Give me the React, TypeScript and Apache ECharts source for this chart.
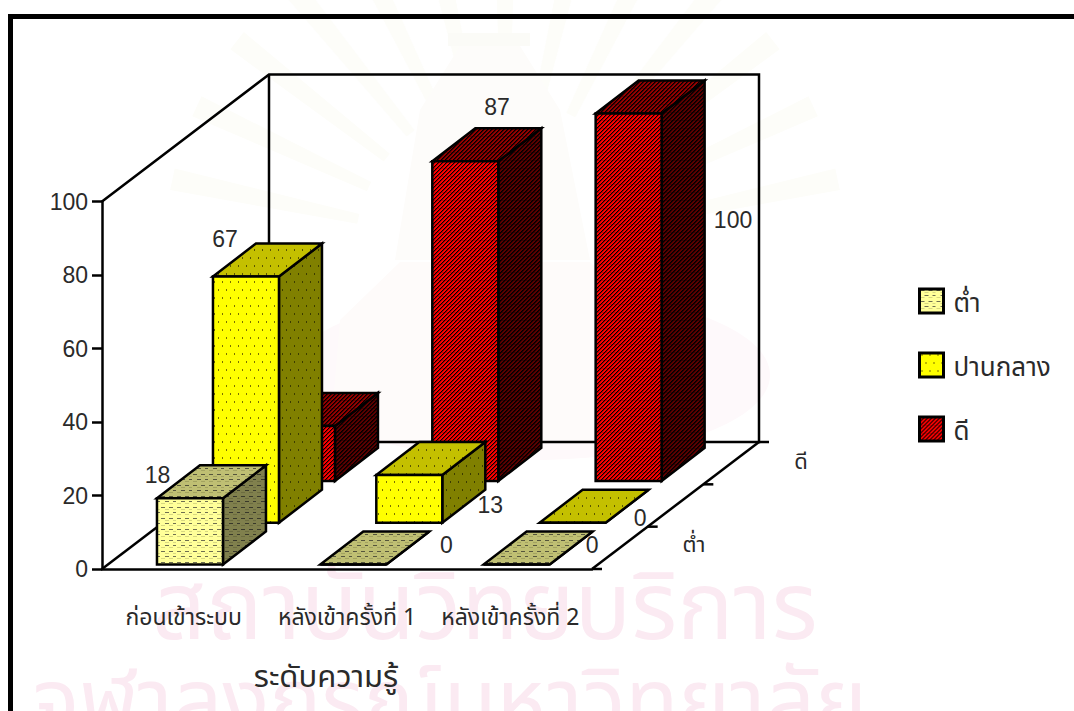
import React, { useEffect, useRef } from "react";
import * as echarts from "echarts";

const categories = ["ก่อนเข้าระบบ", "หลังเข้าครั้งที่ 1", "หลังเข้าครั้งที่ 2"];
const levelNames = ["ต่ำ", "ปานกลาง", "ดี"];
const lowValues = [18, 0, 0];
const midValues = [67, 13, 0];
const highValues = [15, 87, 100];
const valueTicks = [0, 20, 40, 60, 80, 100];

const NUM_FONT = '"Liberation Sans", Arial, sans-serif';
const THAI_FONT = '"Noto Sans Thai", "Noto Sans", "Liberation Sans", sans-serif';
const INK = "#2a2a2a";
const EDGE = 2.5;

// Oblique projection of the depth axis, in pixels.
const ROW_DX = 56;
const ROW_DY = -41.75;
const BAR_W = 66;
const DEPTH_DX = 43;
const DEPTH_DY = -33;
const FLOOR_DX = 167;
const FLOOR_DY = -127;

// Where each value label sits relative to its bar's front-top-left corner.
const labelOffsets: Record<string, [number, number] | null> = {
  "0-0": [0.5, -23],
  "0-1": [126, -20],
  "0-2": [108.5, -20],
  "1-0": [12, -38],
  "1-1": [114, 30],
  "1-2": [100.5, -5],
  "2-0": null,
  "2-1": [64.7, -54],
  "2-2": [137.4, 106.5],
};

type Painter = (put: (x: number, y: number, color: string) => void) => void;

function tile(w: number, h: number, bg: string, paint: Painter) {
  const canvas = document.createElement("canvas");
  canvas.width = w;
  canvas.height = h;
  const ctx = canvas.getContext("2d")!;
  ctx.fillStyle = bg;
  ctx.fillRect(0, 0, w, h);
  paint((x, y, color) => {
    ctx.fillStyle = color;
    ctx.fillRect(x, y, 1, 1);
  });
  return { image: canvas, repeat: "repeat", imageWidth: w, imageHeight: h };
}

function dashTile(bg: string, dark: string, light: string) {
  return tile(16, 11, bg, (put) => {
    for (let i = 0; i < 4; i++) {
      put(1 + i, 1, dark);
      put(9 + i, 1, dark);
      put(5 + i, 3, light);
      put(13 + i, 3, light);
      put(5 + i, 6, dark);
      put(13 + i, 6, dark);
      put(1 + i, 8, light);
      put(9 + i, 8, light);
    }
  });
}

function dotTile(bg: string, dot: string) {
  return tile(16, 16, bg, (put) => {
    put(2, 1, dot);
    put(2, 2, dot);
    put(10, 1, dot);
    put(10, 2, dot);
    put(6, 9, dot);
    put(6, 10, dot);
    put(14, 9, dot);
    put(14, 10, dot);
  });
}

function stripeTile(bg: string, stripe: string, soft: string, band: string) {
  return tile(8, 8, bg, (put) => {
    for (let y = 0; y < 8; y++) {
      for (let x = 0; x < 8; x++) {
        const phase = (x + y) % 4;
        if (phase === 0) put(x, y, stripe);
        else if (phase === 1) put(x, y, soft);
        else if (y === 0) put(x, y, band);
      }
    }
  });
}

// Rays fanning out above the faint seal behind the figure.
function sealRays() {
  const cx = 505;
  const cy = 250;
  const rays: any[] = [];
  for (let deg = -168; deg <= -12; deg += 13) {
    const a = (deg * Math.PI) / 180;
    const nx = -Math.sin(a);
    const ny = Math.cos(a);
    const r0 = 150;
    const r1 = 340;
    rays.push({
      type: "polygon",
      z: -10,
      silent: true,
      shape: {
        points: [
          [cx + Math.cos(a) * r0 - nx * 5, cy + Math.sin(a) * r0 - ny * 5],
          [cx + Math.cos(a) * r0 + nx * 5, cy + Math.sin(a) * r0 + ny * 5],
          [cx + Math.cos(a) * r1 + nx * 11, cy + Math.sin(a) * r1 + ny * 11],
          [cx + Math.cos(a) * r1 - nx * 11, cy + Math.sin(a) * r1 - ny * 11],
        ],
      },
      style: { fill: "#fdfdf9" },
    });
  }
  return rays;
}

export default function App() {
  const ref = useRef<HTMLDivElement>(null);

  useEffect(() => {
    const chart = echarts.init(ref.current!, undefined, { renderer: "svg" });

    const fills = [
      {
        front: dashTile("#ffff99", "#6e6e50", "#d8d880"),
        top: dashTile("#bfbf73", "#55553c", "#a3a360"),
        side: dashTile("#80804d", "#38382a", "#6c6c40"),
      },
      {
        front: dotTile("#ffff00", "#7a7000"),
        top: dotTile("#c4c000", "#5a5600"),
        side: dotTile("#808000", "#3c3c00"),
      },
      {
        front: stripeTile("#ff0000", "#000000", "#a00000", "#d00000"),
        top: stripeTile("#940000", "#000000", "#400000", "#700000"),
        side: stripeTile("#5c0000", "#000000", "#200000", "#400000"),
      },
    ];

    const renderBars = (row: number) => (_params: any, api: any) => {
      const cat = api.value(0);
      const value = api.value(1);
      const zero = api.coord([cat, 0]);
      const tip = api.coord([cat, value]);
      const x0 = zero[0] - 26.7 + ROW_DX * row;
      const base = zero[1] - 4.5 + ROW_DY * row;
      const top = base - (zero[1] - tip[1]);
      const f = fills[row];
      const stroke = { stroke: "#000000", lineWidth: EDGE, lineJoin: "miter" };
      const face = (points: number[][], fill: any) => ({
        type: "polygon",
        shape: { points },
        style: { fill, ...stroke },
      });
      const children: any[] = [
        face(
          [
            [x0 + BAR_W, base],
            [x0 + BAR_W + DEPTH_DX, base + DEPTH_DY],
            [x0 + BAR_W + DEPTH_DX, top + DEPTH_DY],
            [x0 + BAR_W, top],
          ],
          f.side
        ),
        face(
          [
            [x0, top],
            [x0 + BAR_W, top],
            [x0 + BAR_W + DEPTH_DX, top + DEPTH_DY],
            [x0 + DEPTH_DX, top + DEPTH_DY],
          ],
          f.top
        ),
        face(
          [
            [x0, base],
            [x0 + BAR_W, base],
            [x0 + BAR_W, top],
            [x0, top],
          ],
          f.front
        ),
      ];
      const offset = labelOffsets[`${row}-${cat}`];
      if (offset) {
        children.push({
          type: "text",
          style: {
            text: String(value),
            x: x0 + offset[0],
            y: top + offset[1],
            fill: INK,
            fontSize: 23,
            fontFamily: NUM_FONT,
            align: "center",
            verticalAlign: "middle",
          },
        });
      }
      return { type: "group", children };
    };

    // Back wall, side wall, floor edge and the depth axis with its labels.
    const renderFrame = (params: any) => {
      const { x, y, width, height } = params.coordSys;
      const bottom = y + height;
      const right = x + width;
      const line = { stroke: "#000000", lineWidth: EDGE, fill: "none" };
      const poly = (points: number[][]) => ({ type: "polyline", shape: { points }, style: line });
      const rowTick = (k: number) => {
        const px = right + (FLOOR_DX * k) / 3;
        const py = bottom + (FLOOR_DY * k) / 3;
        return poly([
          [px, py],
          [px + 10, py],
        ]);
      };
      const depthLabel = (text: string, lx: number, ly: number) => ({
        type: "text",
        style: {
          text,
          x: lx,
          y: ly,
          fill: INK,
          fontSize: 22,
          fontFamily: THAI_FONT,
          align: "center",
          verticalAlign: "middle",
        },
      });
      return {
        type: "group",
        children: [
          poly([
            [x, y],
            [x + FLOOR_DX, y + FLOOR_DY],
            [right + FLOOR_DX, y + FLOOR_DY],
            [right + FLOOR_DX, bottom + FLOOR_DY],
            [x + FLOOR_DX, bottom + FLOOR_DY],
            [x + FLOOR_DX, y + FLOOR_DY],
          ]),
          poly([
            [x, bottom],
            [x + FLOOR_DX, bottom + FLOOR_DY],
          ]),
          poly([
            [right, bottom],
            [right + FLOOR_DX, bottom + FLOOR_DY],
          ]),
          rowTick(0),
          rowTick(1),
          rowTick(2),
          rowTick(3),
          depthLabel(levelNames[0], right + 102, bottom - 24),
          depthLabel(levelNames[2], right + 209, bottom - 107),
        ],
      };
    };

    const levelSeries = [lowValues, midValues, highValues].map((values, row) => ({
      type: "custom",
      name: levelNames[row],
      renderItem: renderBars(row),
      data: values.map((v, i) => [i, v]),
      encode: { x: 0, y: 1 },
      itemStyle: { color: fills[row].front },
      z: 5 - row,
    }));

    const pale = (points: number[][], fill: string) => ({
      type: "polygon",
      z: -9,
      silent: true,
      shape: { points },
      style: { fill },
    });

    chart.setOption({
      animation: false,
      backgroundColor: "#ffffff",
      grid: { left: 102, right: 1074 - 592, top: 201.5, bottom: 711 - 569 },
      xAxis: {
        type: "category",
        data: categories,
        name: "ระดับความรู้",
        nameLocation: "middle",
        nameGap: 93,
        nameTextStyle: {
          color: INK,
          fontSize: 31,
          fontFamily: THAI_FONT,
          padding: [0, 42, 0, 0],
        },
        axisLine: { lineStyle: { color: "#000000", width: EDGE } },
        axisTick: { length: 9, lineStyle: { color: "#000000", width: EDGE } },
        axisLabel: { color: INK, fontSize: 23, fontFamily: THAI_FONT, margin: 37, interval: 0 },
      },
      yAxis: {
        type: "value",
        min: valueTicks[0],
        max: valueTicks[valueTicks.length - 1],
        interval: valueTicks[1] - valueTicks[0],
        axisLine: { show: true, lineStyle: { color: "#000000", width: EDGE } },
        axisTick: { show: true, length: 10, lineStyle: { color: "#000000", width: EDGE } },
        axisLabel: { color: INK, fontSize: 23, fontFamily: NUM_FONT, margin: 14 },
        splitLine: { show: false },
      },
      legend: {
        orient: "vertical",
        left: 918,
        top: 286,
        padding: 0,
        data: levelNames,
        icon: "rect",
        itemWidth: 24,
        itemHeight: 24,
        itemGap: 33,
        selectedMode: false,
        itemStyle: { borderColor: "#000000", borderWidth: 3 },
        formatter: (name: string) => `{t|${name}}`,
        textStyle: {
          color: INK,
          rich: {
            t: {
              color: INK,
              fontSize: 26,
              lineHeight: 24,
              height: 24,
              fontFamily: THAI_FONT,
              padding: [6, 0, 0, 5],
            },
          },
        },
      },
      graphic: [
        // Page border along the top and left.
        { type: "rect", z: 20, shape: { x: 8, y: 14, width: 1066, height: 5 }, style: { fill: "#000000" } },
        { type: "rect", z: 20, shape: { x: 8, y: 14, width: 5, height: 697 }, style: { fill: "#000000" } },
        // Faint seal and lettering printed behind the figure.
        ...sealRays(),
        pale([[448, 33], [530, 33], [530, 46], [448, 46]], "#fbfbf7"),
        pale([[460, 46], [520, 46], [560, 110], [590, 260], [395, 260], [420, 110]], "#fdfcfa"),
        pale([[400, 262], [590, 262], [650, 320], [660, 440], [330, 440], [340, 320]], "#fefbfa"),
        {
          type: "ellipse",
          z: -10,
          silent: true,
          shape: { cx: 530, cy: 375, rx: 240, ry: 85 },
          style: { fill: "#fef9fb" },
        },
        {
          type: "text",
          z: -10,
          silent: true,
          style: {
            text: "สถาบันวิทยบริการ",
            x: 485,
            y: 610,
            fill: "#fbeaf2",
            fontSize: 94,
            fontFamily: THAI_FONT,
            align: "center",
            verticalAlign: "middle",
          },
        },
        {
          type: "text",
          z: -10,
          silent: true,
          style: {
            text: "จุฬาลงกรณ์มหาวิทยาลัย",
            x: 450,
            y: 704,
            fill: "#fbeaf2",
            fontSize: 87,
            fontFamily: THAI_FONT,
            align: "center",
            verticalAlign: "middle",
          },
        },
      ],
      series: [
        {
          type: "custom",
          name: "frame",
          silent: true,
          renderItem: renderFrame,
          data: [[0, 0]],
          encode: { x: 0, y: 1 },
          z: 1,
        },
        ...levelSeries,
      ],
    });

    return () => chart.dispose();
  }, []);

  return (
    <div
      ref={ref}
      style={{ position: "absolute", left: 0, top: 0, width: 1074, height: 711 }}
    />
  );
}
